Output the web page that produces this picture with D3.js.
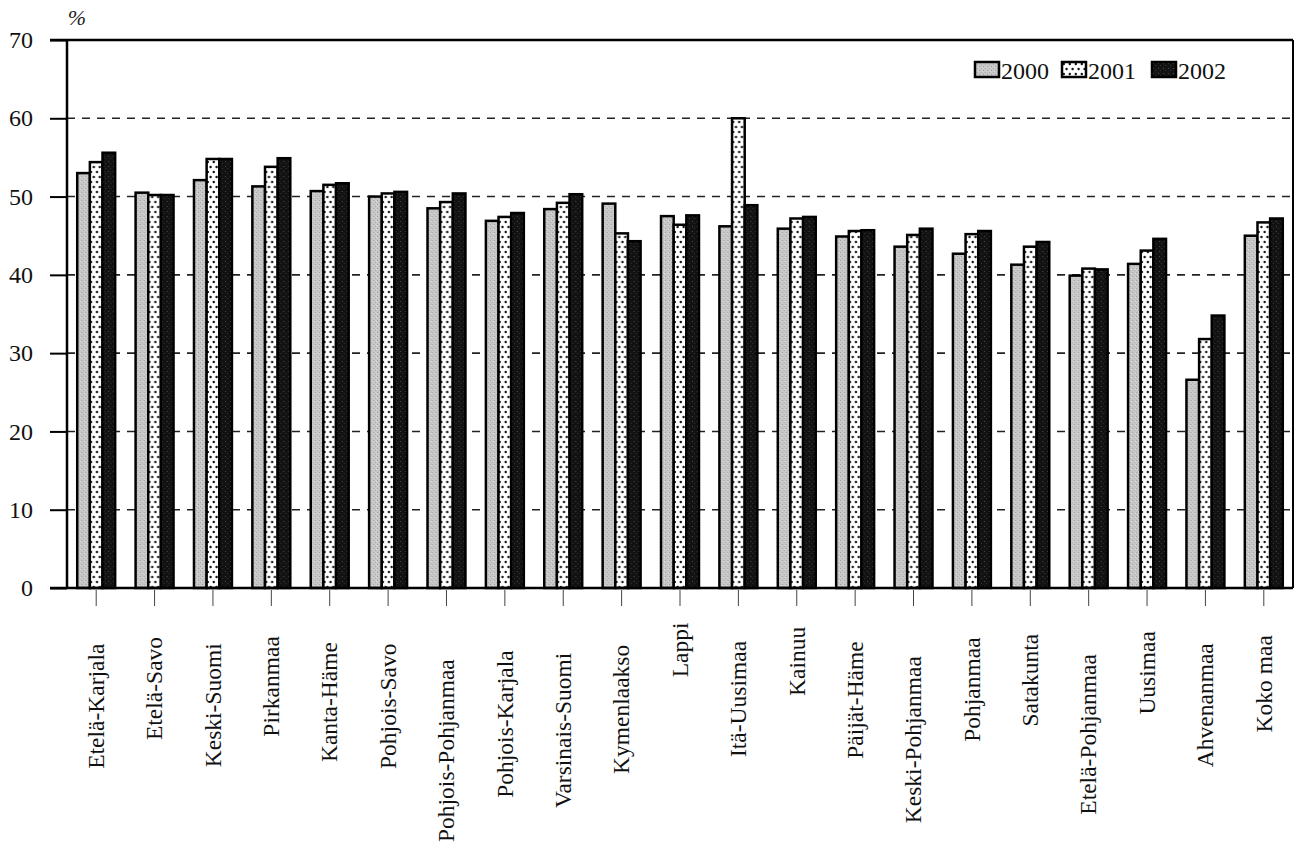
<!DOCTYPE html>
<html>
<head>
<meta charset="utf-8">
<script src="https://cdn.jsdelivr.net/npm/d3@7"></script>
<style>
  html, body { margin: 0; padding: 0; background: #fff; }
  svg { display: block; }
</style>
</head>
<body>
<svg id="chart" width="1295" height="849"></svg>
<script>
const categories = ["Etelä-Karjala","Etelä-Savo","Keski-Suomi","Pirkanmaa","Kanta-Häme","Pohjois-Savo","Pohjois-Pohjanmaa","Pohjois-Karjala","Varsinais-Suomi","Kymenlaakso","Lappi","Itä-Uusimaa","Kainuu","Päijät-Häme","Keski-Pohjanmaa","Pohjanmaa","Satakunta","Etelä-Pohjanmaa","Uusimaa","Ahvenanmaa","Koko maa"];
const years = ["2000","2001","2002"];
const values2000 = [53.0,50.5,52.1,51.3,50.7,50.0,48.5,46.9,48.4,49.1,47.5,46.2,45.9,44.9,43.6,42.7,41.3,39.9,41.4,26.6,45.0];
const values2001 = [54.4,50.2,54.8,53.8,51.5,50.4,49.3,47.4,49.2,45.3,46.4,60.0,47.2,45.6,45.1,45.2,43.6,40.8,43.1,31.8,46.7];
const values2002 = [55.6,50.2,54.8,54.9,51.7,50.6,50.4,47.9,50.3,44.3,47.6,48.9,47.4,45.7,45.9,45.6,44.2,40.7,44.6,34.8,47.2];
const yTicks = [0,10,20,30,40,50,60,70];
const unitLabel = "%";

const seriesValues = [values2000, values2001, values2002];

const svg = d3.select("#chart");
const mLeft = 67, mRight = 1293, mTop = 40, mBottom = 588;

// Patterns
const defs = svg.append("defs");
const p0 = defs.append("pattern").attr("id","pat2000").attr("patternUnits","userSpaceOnUse").attr("width",4).attr("height",4);
p0.append("rect").attr("width",4).attr("height",4).attr("fill","#c8c8c8");
p0.append("rect").attr("x",0).attr("y",0).attr("width",1).attr("height",1).attr("fill","#9c9c9c");
p0.append("rect").attr("x",2).attr("y",2).attr("width",1).attr("height",1).attr("fill","#aaaaaa");
p0.append("rect").attr("x",3).attr("y",1).attr("width",1).attr("height",1).attr("fill","#e0e0e0");

const p1 = defs.append("pattern").attr("id","pat2001").attr("patternUnits","userSpaceOnUse").attr("width",6).attr("height",10);
p1.append("rect").attr("width",6).attr("height",10).attr("fill","#fff");
p1.append("circle").attr("cx",1.8).attr("cy",2).attr("r",1.2).attr("fill","#111");
p1.append("circle").attr("cx",4.6).attr("cy",7).attr("r",1.2).attr("fill","#111");

const p2 = defs.append("pattern").attr("id","pat2002").attr("patternUnits","userSpaceOnUse").attr("width",5).attr("height",5);
p2.append("rect").attr("width",5).attr("height",5).attr("fill","#121212");
p2.append("rect").attr("x",1).attr("y",1).attr("width",1).attr("height",1).attr("fill","#4a4a4a");
p2.append("rect").attr("x",3).attr("y",3).attr("width",1).attr("height",1).attr("fill","#333");

const fills = { "2000": "url(#pat2000)", "2001": "url(#pat2001)", "2002": "url(#pat2002)" };

// Scales
const x = d3.scaleBand().domain(categories).range([mLeft, mRight]).paddingInner(0.35).paddingOuter(0.175);
const xs = d3.scaleBand().domain(years).range([0, x.bandwidth()]).padding(0);
const y = d3.scaleLinear().domain([0, 70]).range([mBottom, mTop]);

// Gridlines
svg.append("g").selectAll("line")
  .data(yTicks.filter(t => t > 0 && t < 70))
  .join("line")
  .attr("x1", mLeft).attr("x2", mRight)
  .attr("y1", d => y(d)).attr("y2", d => y(d))
  .attr("stroke", "#222").attr("stroke-width", 1.6)
  .attr("stroke-dasharray", "8,7");

// Bars
const groups = svg.append("g").selectAll("g")
  .data(categories)
  .join("g")
  .attr("transform", d => `translate(${x(d)},0)`);

groups.selectAll("rect")
  .data((d, i) => years.map((yr, k) => ({ yr, v: seriesValues[k][i] })))
  .join("rect")
  .attr("x", d => xs(d.yr))
  .attr("y", d => y(d.v))
  .attr("width", xs.bandwidth())
  .attr("height", d => y(0) - y(d.v))
  .attr("fill", d => fills[d.yr])
  .attr("stroke", "#000")
  .attr("stroke-width", 2.5);

// Y axis
const yAxis = d3.axisLeft(y).tickValues(yTicks).tickSize(17).tickPadding(17).tickFormat(d3.format("d"));
const yg = svg.append("g").attr("transform", `translate(${mLeft},0)`).call(yAxis);
yg.select(".domain").remove();
yg.selectAll(".tick line").attr("stroke", "#000").attr("stroke-width", 2);
yg.selectAll(".tick text")
  .attr("font-family", "'Liberation Serif', 'Times New Roman', serif")
  .attr("font-size", 24).attr("fill", "#111");

// Frame lines
svg.append("line").attr("x1", mLeft).attr("x2", mLeft).attr("y1", mTop).attr("y2", mBottom).attr("stroke", "#000").attr("stroke-width", 2.5);
svg.append("line").attr("x1", mLeft - 17).attr("x2", mRight).attr("y1", mTop).attr("y2", mTop).attr("stroke", "#000").attr("stroke-width", 2.5);
svg.append("line").attr("x1", mRight).attr("x2", mRight).attr("y1", mTop).attr("y2", mBottom).attr("stroke", "#000").attr("stroke-width", 2);
svg.append("line").attr("x1", mLeft - 17).attr("x2", mRight).attr("y1", mBottom).attr("y2", mBottom).attr("stroke", "#000").attr("stroke-width", 2.5);

// X axis ticks and labels
const xAxis = d3.axisBottom(x).tickSize(16).tickFormat("");
const xg = svg.append("g").attr("transform", `translate(0,${mBottom + 2})`).call(xAxis);
xg.select(".domain").remove();
xg.selectAll(".tick line").attr("stroke", "#444").attr("stroke-width", 1);

const labels = svg.append("g").selectAll("text")
  .data(categories)
  .join("text")
  .text(d => d)
  .attr("font-family", "'Liberation Serif', 'Times New Roman', serif")
  .attr("font-size", 23.5)
  .attr("fill", "#111")
  .attr("text-anchor", "middle")
  .attr("dy", "0.33em");
labels.each(function(d) {
  const len = this.getComputedTextLength();
  const cx = x(d) + x.bandwidth() / 2;
  const cy = Math.min(606 + 0.8 * len, 842 - len / 2);
  d3.select(this).attr("transform", `translate(${cx},${cy}) rotate(-90)`);
});

// Unit label
svg.append("text").attr("x", 77).attr("y", 25).attr("text-anchor", "middle")
  .attr("font-family", "'Liberation Serif', 'Times New Roman', serif")
  .attr("font-style", "italic")
  .attr("font-size", 22).attr("fill", "#222").text(unitLabel);

// Legend
const legendX = [975, 1062, 1152];
const lg = svg.append("g").selectAll("g").data(years).join("g")
  .attr("transform", (d, i) => `translate(${legendX[i]},62)`);
lg.append("rect").attr("width", 24).attr("height", 15)
  .attr("fill", d => fills[d]).attr("stroke", "#000").attr("stroke-width", 2.5);
lg.append("text").attr("x", 26).attr("y", 17)
  .attr("font-family", "'Liberation Serif', 'Times New Roman', serif")
  .attr("font-size", 24).attr("fill", "#111").text(d => d);
</script>
</body>
</html>
